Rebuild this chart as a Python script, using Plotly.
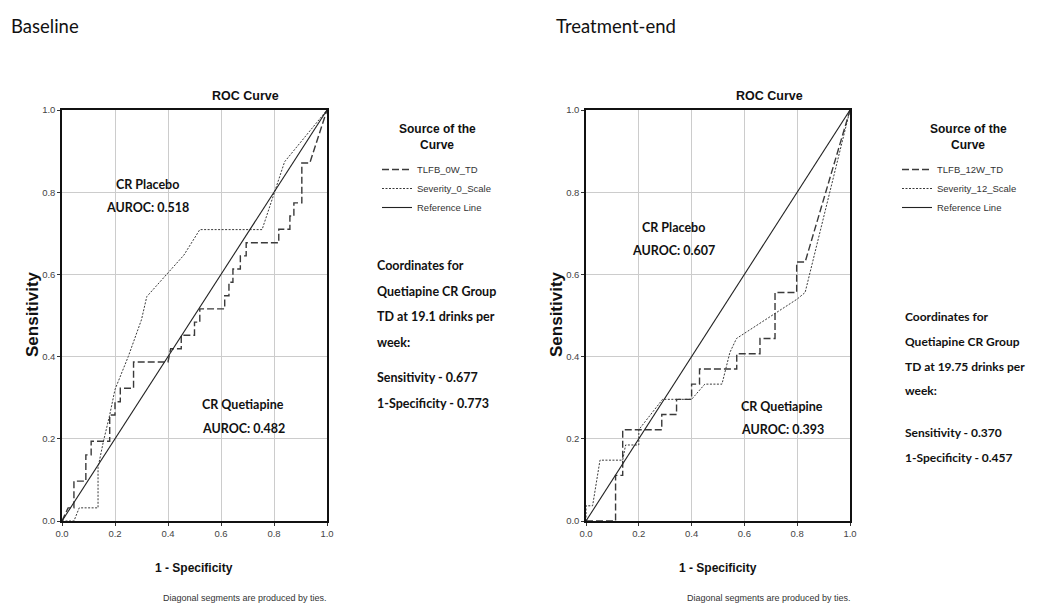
import plotly.graph_objects as go

# ---------------- data ----------------
# Baseline (left panel)
tlfb0_x = [0, 0.023, 0.045, 0.045, 0.09, 0.09, 0.11, 0.11, 0.18, 0.18, 0.2, 0.2, 0.22, 0.22, 0.27, 0.27,
           0.4, 0.41, 0.45, 0.45, 0.5, 0.5, 0.52, 0.52, 0.614, 0.614, 0.63, 0.63, 0.645, 0.645, 0.673, 0.673,
           0.695, 0.695, 0.818, 0.818, 0.86, 0.86, 0.875, 0.875, 0.905, 0.905, 0.935, 1.0]
tlfb0_y = [0, 0.032, 0.032, 0.097, 0.097, 0.161, 0.161, 0.194, 0.194, 0.258, 0.258, 0.29, 0.29, 0.323, 0.323, 0.387,
           0.387, 0.419, 0.419, 0.452, 0.452, 0.484, 0.484, 0.516, 0.516, 0.548, 0.548, 0.581, 0.581, 0.613, 0.613, 0.645,
           0.645, 0.677, 0.677, 0.71, 0.71, 0.742, 0.742, 0.774, 0.774, 0.871, 0.871, 1.0]
sev0_x = [0, 0.045, 0.065, 0.136, 0.136, 0.155, 0.18, 0.2, 0.25, 0.3, 0.32, 0.46, 0.52, 0.755, 0.84, 1.0]
sev0_y = [0, 0, 0.032, 0.032, 0.13, 0.19, 0.258, 0.32, 0.4, 0.49, 0.546, 0.647, 0.709, 0.709, 0.874, 1.0]

# Treatment-end (right panel)
tlfb12_x = [0, 0.112, 0.112, 0.139, 0.139, 0.287, 0.287, 0.343, 0.343, 0.4, 0.4, 0.43, 0.43, 0.571, 0.571,
            0.659, 0.659, 0.716, 0.716, 0.798, 0.798, 0.83, 1.0]
tlfb12_y = [0, 0, 0.111, 0.111, 0.222, 0.222, 0.259, 0.259, 0.296, 0.296, 0.333, 0.333, 0.37, 0.37, 0.407,
            0.407, 0.444, 0.444, 0.556, 0.556, 0.63, 0.63, 1.0]
sev12_x = [0, 0, 0.025, 0.053, 0.139, 0.15, 0.2, 0.2, 0.29, 0.4, 0.45, 0.515, 0.545, 0.57, 0.8, 0.83, 1.0]
sev12_y = [0, 0.037, 0.037, 0.148, 0.148, 0.185, 0.185, 0.222, 0.296, 0.296, 0.333, 0.333, 0.41, 0.444, 0.54, 0.556, 1.0]

ref_x = [0, 1]
ref_y = [0, 1]

tick_vals = [0, 0.2, 0.4, 0.6, 0.8, 1.0]
tick_text = ["0.0", "0.2", "0.4", "0.6", "0.8", "1.0"]

# ---------------- figure ----------------
# the page body has an 8px margin, so the figure starts at (8, 8) in the window
OFF = 8
W, H = 1037 - OFF, 608 - OFF
def pxx(x): return (x - OFF) / W
def pyy(y): return 1 - (y - OFF) / H

NARROW = "Liberation Sans Narrow, Arial Narrow, Liberation Sans, Arial"
ARIAL = "Liberation Sans, Arial"
CAL = "Lato, Open Sans, sans-serif"

fig = go.Figure()

dash_long = "7px,3px"
dash_dot = "2px,1.5px"

def add_panel(xa, ya, legend, tx, ty, tname, sx, sy, sname):
    fig.add_trace(go.Scatter(x=tx, y=ty, mode="lines", name=tname, xaxis=xa, yaxis=ya, legend=legend,
                             line=dict(color="#3a3a3a", width=1.4, dash=dash_long)))
    fig.add_trace(go.Scatter(x=sx, y=sy, mode="lines", name=sname, xaxis=xa, yaxis=ya, legend=legend,
                             line=dict(color="#3a3a3a", width=1.0, dash=dash_dot)))
    fig.add_trace(go.Scatter(x=ref_x, y=ref_y, mode="lines", name="Reference Line", xaxis=xa, yaxis=ya,
                             legend=legend, line=dict(color="#222222", width=1.1)))

add_panel("x", "y", "legend", tlfb0_x, tlfb0_y, "TLFB_0W_TD", sev0_x, sev0_y, "Severity_0_Scale")
add_panel("x2", "y2", "legend2", tlfb12_x, tlfb12_y, "TLFB_12W_TD", sev12_x, sev12_y, "Severity_12_Scale")

ax_common = dict(range=[0, 1], tickvals=tick_vals, ticktext=tick_text, showgrid=True, gridcolor="#cccccc",
                 gridwidth=1, zeroline=False, showline=True, linecolor="#111111", linewidth=1.5, mirror=True,
                 ticks="outside", ticklen=3, tickcolor="#333333",
                 tickfont=dict(family=NARROW, size=9.5, color="#444444"), fixedrange=True)

ydom = [pyy(521), pyy(110)]
fig.update_layout(
    xaxis=dict(domain=[pxx(62), pxx(327)], anchor="y", **ax_common),
    yaxis=dict(domain=ydom, anchor="x", **ax_common),
    xaxis2=dict(domain=[pxx(586), pxx(850)], anchor="y2", **ax_common),
    yaxis2=dict(domain=ydom, anchor="x2", **ax_common),
)

legend_common = dict(
    font=dict(family=NARROW, size=9.5, color="#333333"),
    bgcolor="rgba(0,0,0,0)", itemwidth=30, tracegroupgap=0,
    xanchor="left", yanchor="top",
)
fig.update_layout(
    legend=dict(x=pxx(377), y=pyy(155), **legend_common),
    legend2=dict(x=pxx(897), y=pyy(155), **legend_common),
)

ann = []
def text(x, y, s, size=12.5, family=CAL, bold=True, color="#111111", xanchor="center", angle=0):
    ann.append(dict(x=pxx(x), y=pyy(y), xref="paper", yref="paper", text=(f"<b>{s}</b>" if bold else s),
                    showarrow=False, xanchor=xanchor, yanchor="middle", textangle=angle,
                    font=dict(family=family, size=size, color=color)))

# headings
text(9, 26, "Baseline", size=18.5, bold=False, xanchor="left")
text(554, 26, "Treatment-end", size=18.5, bold=False, xanchor="left")

for off, lc in ((0, 437), (524, 968)):
    text(245 + off, 96, "ROC Curve", size=12.5, family=NARROW)
    text(194 + off, 568, "1 - Specificity", size=12, family=NARROW)
    text(245 + off, 598, "Diagonal segments are produced by ties.", size=9, family=NARROW, bold=False,
         color="#333333")
    text(32 + off, 314, "Sensitivity", size=17, family=ARIAL, angle=-90)
    # legend heading
    text(lc, 129, "Source of the", size=12, family=NARROW)
    text(lc, 145, "Curve", size=12, family=NARROW)

# in-plot labels
text(147, 185, "CR Placebo")
text(147, 208, "AUROC: 0.518")
text(243, 404, "CR Quetiapine")
text(243, 428, "AUROC: 0.482")
text(673, 227, "CR Placebo")
text(673, 250, "AUROC: 0.607")
text(782, 406, "CR Quetiapine")
text(782, 429, "AUROC: 0.393")

left_lines = [(265, "Coordinates for"), (291, "Quetiapine CR Group"), (316, "TD at 19.1 drinks per"),
              (342, "week:"), (377, "Sensitivity - 0.677"), (403, "1-Specificity - 0.773")]
right_lines = [(316, "Coordinates for"), (341, "Quetiapine CR Group"), (366, "TD at 19.75 drinks per"),
               (390, "week:"), (432, "Sensitivity - 0.370"), (457, "1-Specificity - 0.457")]
for y, s in left_lines:
    text(375, y, s, xanchor="left")
for y, s in right_lines:
    text(903, y, s, size=12, xanchor="left")

fig.update_layout(
    annotations=ann,
    width=W, height=H,
    margin=dict(l=0, r=0, t=0, b=0, autoexpand=False),
    paper_bgcolor="white", plot_bgcolor="white",
    showlegend=True,
)

fig.write_html("out.html")
